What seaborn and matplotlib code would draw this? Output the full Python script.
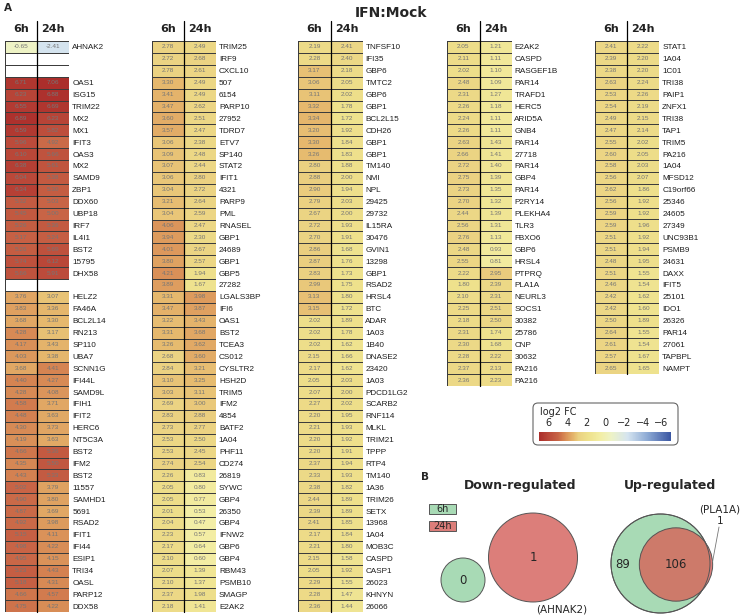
import numpy as np
import pandas as pd
import seaborn as sns
import matplotlib
matplotlib.use("Agg")
import matplotlib.pyplot as plt
from matplotlib.colors import LinearSegmentedColormap, Normalize
from matplotlib.patches import Circle, Rectangle, FancyBboxPatch

nan = np.nan
time_points = ["6h", "24h"]

genes_1 = ["AHNAK2", "", "", "OAS1", "ISG15", "TRIM22", "MX2", "MX1", "IFIT3", "OAS3", "MX2", "SAMD9",
           "ZBP1", "DDX60", "UBP18", "IRF7", "IL4I1", "BST2", "15795", "DHX58", "", "HELZ2", "FA46A",
           "BCL2L14", "RN213", "SP110", "UBA7", "SCNN1G", "IFI44L", "SAMD9L", "IFIH1", "IFIT2", "HERC6",
           "NT5C3A", "BST2", "IFM2", "BST2", "11557", "SAMHD1", "5691", "RSAD2", "IFIT1", "IFI44",
           "ESIP1", "TRI34", "OASL", "PARP12", "DDX58"]
fc6_1 = [-0.65, nan, nan, 6.71, 6.23, 6.55, 6.89, 6.59, 5.96, 6.10, 6.38, 6.04, 6.34, 5.32, 5.45, 5.26,
         5.17, 5.26, 5.74, 5.66, nan, 3.76, 3.83, 3.68, 4.28, 4.17, 4.03, 3.68, 4.40, 4.28, 4.58, 4.48,
         4.30, 4.19, 4.66, 4.35, 4.43, 5.02, 4.90, 4.87, 4.92, 5.15, 4.98, 4.95, 5.23, 5.18, 4.66, 4.75]
fc24_1 = [-2.41, nan, nan, 7.06, 6.88, 6.69, 6.23, 5.82, 4.92, 5.66, 5.61, 5.38, 5.30, 5.03, 5.00, 5.36,
          5.24, 5.69, 6.12, 5.91, nan, 3.07, 3.36, 3.30, 3.17, 3.43, 3.38, 4.41, 4.27, 4.08, 3.71, 3.63,
          3.73, 3.63, 5.36, 5.50, 5.33, 3.79, 3.80, 3.69, 3.98, 4.11, 4.22, 4.15, 4.43, 4.31, 4.57, 4.22]

genes_2 = ["TRIM25", "IRF9", "CXCL10", "507", "6154", "PARP10", "27952", "TDRD7", "ETV7", "SP140",
           "STAT2", "IFIT1", "4321", "PARP9", "PML", "RNASEL", "GBP1", "24689", "GBP1", "GBP5", "27282",
           "LGALS3BP", "IFI6", "OAS1", "BST2", "TCEA3", "CS012", "CYSLTR2", "HSH2D", "TRIM5", "IFM2",
           "4854", "BATF2", "1A04", "PHF11", "CD274", "26819", "SYWC", "GBP4", "26350", "GBP4", "IFNW2",
           "GBP6", "GBP4", "RBM43", "PSMB10", "SMAGP", "E2AK2"]
fc6_2 = [2.78, 2.72, 2.78, 3.30, 3.41, 3.47, 3.60, 3.57, 3.06, 3.09, 3.07, 3.06, 3.04, 3.21, 3.04, 4.06,
         3.94, 4.01, 3.80, 4.21, 3.89, 3.31, 3.47, 3.22, 3.31, 3.26, 2.68, 2.84, 3.10, 3.03, 2.69, 2.83,
         2.73, 2.53, 2.53, 2.74, 2.26, 2.05, 2.05, 2.01, 2.04, 2.23, 2.17, 2.10, 2.07, 2.10, 2.37, 2.18]
fc24_2 = [2.49, 2.68, 2.61, 2.49, 2.49, 2.62, 2.51, 2.47, 2.38, 2.48, 2.44, 2.80, 2.72, 2.64, 2.59, 2.47,
          2.30, 2.67, 2.57, 1.94, 1.67, 3.98, 3.87, 3.43, 3.68, 3.62, 3.60, 3.21, 3.25, 3.11, 3.00, 2.88,
          2.77, 2.50, 2.45, 2.54, 0.83, 0.80, 0.77, 0.53, 0.47, 0.57, 0.64, 0.60, 1.39, 1.37, 1.98, 1.41]

genes_3 = ["TNFSF10", "IFI35", "GBP6", "TMTC2", "GBP6", "GBP1", "BCL2L15", "CDH26", "GBP1", "GBP1",
           "TM140", "NMI", "NPL", "29425", "29732", "IL15RA", "30476", "GVIN1", "13298", "GBP1", "RSAD2",
           "HRSL4", "BTC", "ADAR", "1A03", "1B40", "DNASE2", "23420", "1A03", "PDCD1LG2", "SCARB2",
           "RNF114", "MLKL", "TRIM21", "TPPP", "RTP4", "TM140", "1A36", "TRIM26", "SETX", "13968", "1A04",
           "MOB3C", "CASPD", "CASP1", "26023", "KHNYN", "26066"]
fc6_3 = [2.19, 2.28, 3.17, 3.06, 3.11, 3.32, 3.34, 3.20, 3.30, 3.26, 2.80, 2.88, 2.90, 2.79, 2.67, 2.72,
         2.70, 2.86, 2.87, 2.83, 2.99, 3.13, 3.15, 2.02, 2.02, 2.02, 2.15, 2.17, 2.05, 2.07, 2.27, 2.20,
         2.21, 2.20, 2.20, 2.37, 2.33, 2.38, 2.44, 2.39, 2.41, 2.17, 2.21, 2.15, 2.05, 2.29, 2.28, 2.36]
fc24_3 = [2.41, 2.40, 2.18, 2.05, 2.02, 1.78, 1.72, 1.92, 1.84, 1.83, 1.88, 2.00, 1.94, 2.03, 2.00, 1.93,
          1.91, 1.68, 1.76, 1.73, 1.75, 1.80, 1.72, 1.89, 1.78, 1.62, 1.66, 1.62, 2.03, 2.00, 2.02, 1.95,
          1.93, 1.92, 1.91, 1.94, 1.93, 1.82, 1.89, 1.89, 1.85, 1.84, 1.80, 1.58, 1.92, 1.55, 1.47, 1.44]

genes_4 = ["E2AK2", "CASPD", "RASGEF1B", "PAR14", "TRAFD1", "HERC5", "ARID5A", "GNB4", "PAR14", "27718",
           "PAR14", "GBP4", "PAR14", "P2RY14", "PLEKHA4", "TLR3", "FBXO6", "GBP6", "HRSL4", "PTPRQ",
           "PLA1A", "NEURL3", "SOCS1", "30382", "25786", "CNP", "30632", "PA216", "PA216"]
fc6_4 = [2.05, 2.11, 2.02, 2.48, 2.31, 2.26, 2.24, 2.26, 2.63, 2.66, 2.72, 2.75, 2.73, 2.70, 2.44, 2.56,
         2.76, 2.48, 2.55, 2.22, 1.80, 2.10, 2.25, 2.18, 2.31, 2.30, 2.28, 2.37, 2.36]
fc24_4 = [1.21, 1.11, 1.10, 1.09, 1.27, 1.18, 1.11, 1.11, 1.43, 1.41, 1.40, 1.39, 1.35, 1.32, 1.39, 1.31,
          1.13, 0.93, 0.81, 2.95, 2.39, 2.31, 2.51, 2.50, 1.74, 1.68, 2.22, 2.13, 2.23]

genes_5 = ["STAT1", "1A04", "1C01", "TRI38", "PAIP1", "ZNFX1", "TRI38", "TAP1", "TRIM5", "PA216", "1A04",
           "MFSD12", "C19orf66", "25346", "24605", "27349", "UNC93B1", "PSMB9", "24631", "DAXX", "IFIT5",
           "25101", "IDO1", "26326", "PAR14", "27061", "TAPBPL", "NAMPT"]
fc6_5 = [2.41, 2.39, 2.38, 2.63, 2.53, 2.54, 2.49, 2.47, 2.55, 2.60, 2.58, 2.56, 2.62, 2.56, 2.59, 2.59,
         2.51, 2.51, 2.48, 2.51, 2.46, 2.42, 2.42, 2.50, 2.64, 2.61, 2.57, 2.65]
fc24_5 = [2.22, 2.20, 2.20, 2.24, 2.26, 2.19, 2.15, 2.14, 2.02, 2.05, 2.03, 2.07, 1.86, 1.92, 1.92, 1.96,
          1.92, 1.94, 1.95, 1.55, 1.54, 1.62, 1.60, 1.89, 1.55, 1.54, 1.67, 1.65]

# Venn counts
down_6h_only, down_24h_only, down_both = 0, 1, 0
up_6h_only, up_24h_only, up_both = 89, 1, 106

# colour map (log2 FC)
cmap_vals = [-7.0, -4.5, -2.4, -0.65, 0.5, 1.8, 2.8, 3.3, 4.0, 4.5, 5.0, 6.0, 7.0]
cmap_cols = ["#3b57a3", "#8eabd5", "#d6e5f0", "#eef3c6", "#f3eea5", "#eee18c", "#ebd282",
             "#e6b96e", "#dd9a5d", "#d48050", "#c86546", "#bb4a3a", "#ab2e2b"]
cmap = LinearSegmentedColormap.from_list(
    "fc", [((v + 7) / 14, c) for v, c in zip(cmap_vals, cmap_cols)])
norm = Normalize(-7, 7)

sns.set_style("white")
plt.rcParams["font.family"] = ["DejaVu Sans"]

W, H = 741, 615
fig = plt.figure(figsize=(W / 100, H / 100), dpi=100)


def fax(x0, y0, w, h, **kw):
    return fig.add_axes([x0 / W, 1 - (y0 + h) / H, w / W, h / H], **kw)


# overlay for texts and panel B
ov = fax(0, 0, W, H)
ov.set_xlim(0, W)
ov.set_ylim(H, 0)
ov.axis("off")

row_h = 11.9
cell_w = 32.2
top = 41
col_x = [5, 151.7, 298.3, 447.3, 595]
columns = [(genes_1, fc6_1, fc24_1), (genes_2, fc6_2, fc24_2), (genes_3, fc6_3, fc24_3),
           (genes_4, fc6_4, fc24_4), (genes_5, fc6_5, fc24_5)]

for x0, (genes, a, b) in zip(col_x, columns):
    n = len(genes)
    ax = fax(x0, top, 2 * cell_w, n * row_h)
    df = pd.DataFrame({"6h": a, "24h": b})
    sns.heatmap(df, ax=ax, cmap=cmap, vmin=-7, vmax=7, cbar=False, annot=True, fmt=".2f",
                annot_kws=dict(size=4.6, color="#767676", family="Liberation Sans"),
                linewidths=0.6, linecolor="#3c3c3c", xticklabels=False, yticklabels=genes)
    ax.set_xlabel("")
    ax.set_ylabel("")
    ax.yaxis.tick_right()
    ax.tick_params(axis="y", length=0, pad=2, labelsize=5.9)
    for lbl in ax.get_yticklabels():
        lbl.set_rotation(0)
        lbl.set_fontfamily("Liberation Sans")
        lbl.set_color("#1e1e1e")
    for i, t in enumerate(time_points):
        ax.text(i + 0.5, -1.0, t, ha="center", va="center", fontsize=8, fontweight="bold",
                color="#222222")
    ax.plot([1, 1], [-1.7, n], color="black", lw=0.9, clip_on=False)

ov.text(4, 3, "A", ha="left", va="top", fontsize=7.5, fontweight="bold")
ov.text(391, 13, "IFN:Mock", ha="center", va="center", fontsize=10, fontweight="bold")

# colour legend box
ov.add_patch(FancyBboxPatch((533, 403), 145, 42, boxstyle="round,pad=0,rounding_size=5",
                            fc="white", ec="#666666", lw=0.8))
ov.text(540, 412, "log2 FC", ha="left", va="center", fontsize=7)
cax = fax(539, 432, 132, 9)
grad = np.linspace(7, -7, 300)[None, :]
cax.imshow(grad, aspect="auto", cmap=cmap, norm=norm, extent=[7, -7, 0, 1])
cax.set_xlim(7, -7)
cax.set_yticks([])
cax.set_xticks([6, 4, 2, 0, -2, -4, -6])
cax.xaxis.set_ticks_position("top")
cax.tick_params(axis="x", length=0, pad=3, labelsize=7)
for s in cax.spines.values():
    s.set_visible(False)

# panel B
green = "#a8dab5"
red = "#dc7e7a"
mix = "#cd7a6a"
edge = "#555555"
ov.text(421, 477, "B", ha="left", va="center", fontsize=7.5, fontweight="bold")
ov.text(520, 485, "Down-regulated", ha="center", va="center", fontsize=9, fontweight="bold")
ov.text(670, 485, "Up-regulated", ha="center", va="center", fontsize=9, fontweight="bold")
ov.add_patch(Rectangle((429, 504), 27, 10, fc=green, ec=edge, lw=0.7))
ov.text(442.5, 509, "6h", ha="center", va="center", fontsize=7)
ov.add_patch(Rectangle((429, 521), 27, 10, fc=red, ec=edge, lw=0.7))
ov.text(442.5, 526, "24h", ha="center", va="center", fontsize=7)

# down-regulated
ov.add_patch(Circle((463, 580), 22, fc=green, ec=edge, lw=0.7))
ov.add_patch(Circle((533, 557.5), 44.5, fc=red, ec=edge, lw=0.7))
ov.text(463, 580, str(down_6h_only), ha="center", va="center", fontsize=8.5)
ov.text(533, 557.5, str(down_24h_only), ha="center", va="center", fontsize=8.5)
ov.text(562, 609, "(AHNAK2)", ha="center", va="center", fontsize=7.5)

# up-regulated: radii from set sizes
k = 49.5 / np.sqrt(up_6h_only + up_both)
r_g = k * np.sqrt(up_6h_only + up_both)
r_r = k * np.sqrt(up_24h_only + up_both)
gc = Circle((660.5, 563.5), r_g, fc=green, ec=edge, lw=0.7)
ov.add_patch(gc)
ov.add_patch(Circle((676, 564.5), r_r, fc=red, ec="none"))
ovl = Circle((676, 564.5), r_r, fc=mix, ec="none")
ov.add_patch(ovl)
ovl.set_clip_path(Circle((660.5, 563.5), r_g, transform=ov.transData))
ov.add_patch(Circle((660.5, 563.5), r_g, fc="none", ec=edge, lw=0.7))
ov.add_patch(Circle((676, 564.5), r_r, fc="none", ec=edge, lw=0.7))
ov.text(623, 565, str(up_6h_only), ha="center", va="center", fontsize=8.5)
ov.text(676, 565, str(up_both), ha="center", va="center", fontsize=8.5)
ov.text(720, 521, str(up_24h_only), ha="center", va="center", fontsize=7.5)
ov.text(720, 509, "(PLA1A)", ha="center", va="center", fontsize=7.5)
ov.plot([719, 712.5], [527, 562], color="#777777", lw=0.6)

fig.savefig("out.png", dpi=100)
